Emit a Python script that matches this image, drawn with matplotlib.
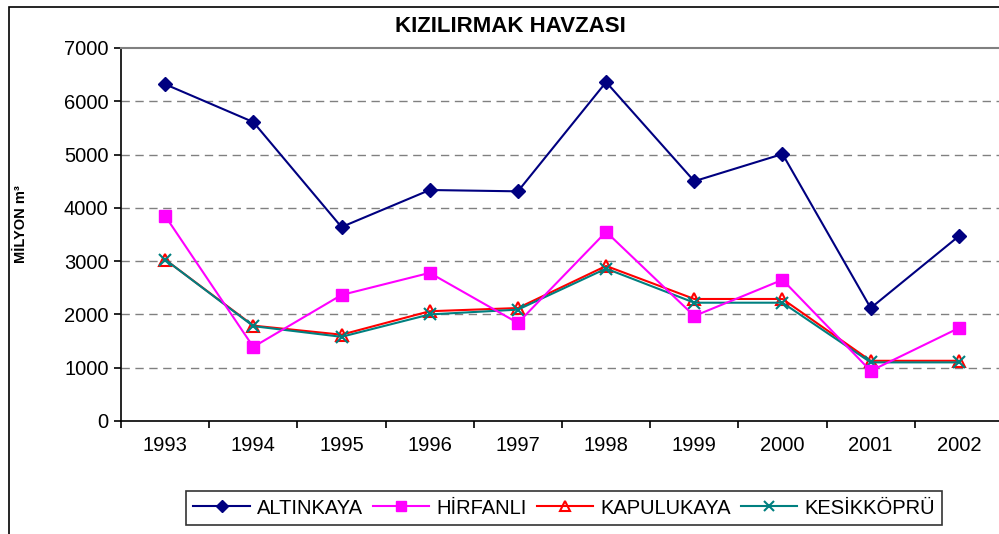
import matplotlib
matplotlib.use("Agg")
import matplotlib.pyplot as plt
from matplotlib.patches import Rectangle

plt.rcParams['font.family'] = ['Liberation Sans', 'DejaVu Sans']

years = ['1993', '1994', '1995', '1996', '1997', '1998', '1999', '2000', '2001', '2002']
altinkaya = [6320, 5610, 3640, 4335, 4310, 6360, 4500, 5010, 2120, 3470]
hirfanli = [3850, 1390, 2365, 2780, 1840, 3550, 1970, 2650, 940, 1745]
kapulukaya = [3030, 1790, 1620, 2060, 2120, 2910, 2290, 2290, 1130, 1130]
kesikkopru = [3030, 1780, 1580, 2000, 2090, 2860, 2220, 2220, 1100, 1100]
series_names = ['ALTINKAYA', 'HİRFANLI', 'KAPULUKAYA', 'KESİKKÖPRÜ']
yticks = [0, 1000, 2000, 3000, 4000, 5000, 6000, 7000]

fig = plt.figure(figsize=(9.99, 5.34), dpi=100)
# outer chart border
fig.patches.append(Rectangle((9/999, -0.1), 1.2, (534-7)/534 + 0.1, transform=fig.transFigure,
                             fill=False, edgecolor='black', linewidth=1.2, zorder=0))

ax = fig.add_axes([121/999, (534-421)/534, 882/999, 373/534])
x = list(range(len(years)))

ax.plot(x, altinkaya, color='#000080', marker='D', markersize=7.5, linewidth=1.5,
        label=series_names[0], zorder=5)
ax.plot(x, hirfanli, color='#FF00FF', marker='s', markersize=8, linewidth=1.5,
        label=series_names[1], zorder=4)
ax.plot(x, kapulukaya, color='#FF0000', marker='^', markersize=9, markerfacecolor='none',
        markeredgewidth=1.5, linewidth=1.5, label=series_names[2], zorder=3)
ax.plot(x, kesikkopru, color='#008080', marker='x', markersize=9, markeredgewidth=1.5,
        linewidth=1.5, label=series_names[3], zorder=3)

ax.set_xlim(-0.5, len(years) - 0.5)
ax.set_ylim(0, 7000)
ax.set_yticks(yticks)
ax.set_yticklabels([str(v) for v in yticks], fontsize=14.5)
ax.set_xticks([i - 0.5 for i in range(len(years) + 1)])
ax.set_xticklabels([])
ax.set_xticks(x, minor=True)
ax.set_xticklabels(years, minor=True, fontsize=14.5)
ax.tick_params(axis='x', which='major', direction='out', length=5, width=1.2)
ax.tick_params(axis='x', which='minor', length=0, pad=11)
ax.tick_params(axis='y', direction='out', length=5, width=1.2, pad=4)

for v in yticks[1:-1]:
    ax.axhline(v, color='#808080', linestyle=(0, (6, 4)), linewidth=1, zorder=1)
ax.spines['top'].set_color('#808080')
ax.spines['top'].set_linewidth(1.5)
ax.spines['right'].set_visible(False)
ax.spines['left'].set_linewidth(1.2)
ax.spines['bottom'].set_linewidth(1.2)

fig.text(510/999, 1 - 27/534, 'KIZILIRMAK HAVZASI', ha='center', va='center',
         fontsize=16, fontweight='bold')
fig.text(21/999, 1 - 224/534, 'MİLYON m³', ha='center', va='center', rotation=90,
         fontsize=10.5, fontweight='bold')

leg = fig.legend(loc='center', bbox_to_anchor=(564/999, 1 - 508/534), ncol=4,
                 fontsize=14.5, frameon=True, fancybox=False, edgecolor='black',
                 handlelength=2.8, handletextpad=0.35, columnspacing=0.5,
                 borderpad=0.35, markerscale=0.85)
leg.get_frame().set_linewidth(1.2)

fig.savefig('out.png', dpi=100)
